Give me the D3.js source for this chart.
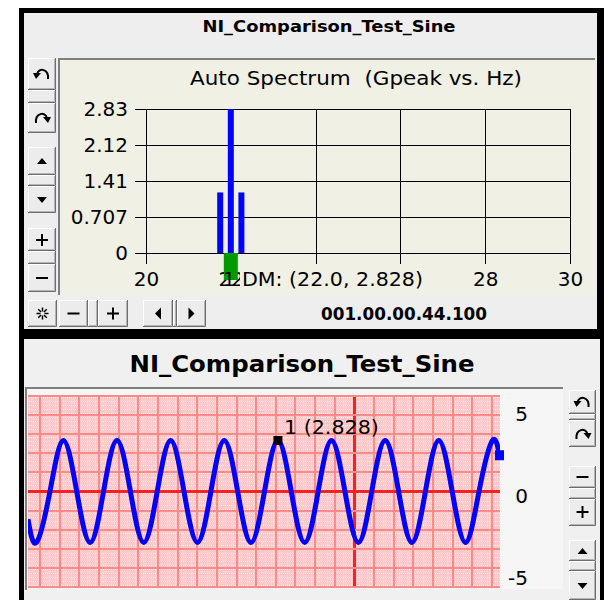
<!DOCTYPE html>
<html>
<head>
<meta charset="utf-8">
<script src="https://cdn.jsdelivr.net/npm/d3@7"></script>
<style>
body { margin: 0; background: #fff; }
text { font-family: "DejaVu Sans", sans-serif; fill: #000; }
</style>
</head>
<body>
<div id="chart"></div>
<script>
// ---- DATA ----
const panelTitle = "NI_Comparison_Test_Sine";
const specTitle = "Auto Spectrum  (Gpeak vs. Hz)";
const specFreq = [21.75, 22, 22.25];          // Hz
const specAmp = [1.19, 2.828, 1.19];          // Gpeak
const specYTicks = [0, 0.707, 1.41, 2.12, 2.83];
const specXTicks = [20, 22, 24, 26, 28, 30];
const specXHidden = [24, 26];                 // labels covered by the cursor readout
const cursorFreq = 22.0;
const cursorLabel = "DM: (22.0, 2.828)";
const timeStamp = "001.00.00.44.100";

// time signal (ms, value)
const sineT = [0, 7.2, 18.6, 29.9, 41.3, 52.7, 64.0, 75.4, 86.8, 98.1, 109.5, 120.9, 132.2,
  143.6, 155.0, 166.3, 177.7, 189.0, 200.4, 211.8, 223.1, 234.5, 245.9, 257.2, 268.6,
  280.0, 291.3, 302.7, 314.1, 325.4, 336.8, 348.1, 359.5, 370.9, 382.2, 393.6, 400];
const sineV = [-1.54, -2.828, 0, 2.828, 0, -2.828, 0, 2.828, 0, -2.828, 0, 2.828, 0,
  -2.828, 0, 2.828, 0, -2.828, 0, 2.828, 0, -2.828, 0, 2.828, 0,
  -2.828, 0, 2.828, 0, -2.828, 0, 2.828, 0, -2.828, 0, 2.828, 1.79];
const sineYTicks = [5, 0, -5];
const markerT = 211.8, markerV = 2.828;
const markerLabel = "1 (2.828)";

const sine = sineT.map((t, i) => ({t: t, v: sineV[i]}));

const svg = d3.select("#chart").append("svg")
  .attr("width", 604).attr("height", 600).style("display", "block");

// ---- panels ----
svg.append("rect").attr("x", 19).attr("y", 8).attr("width", 585).attr("height", 592).attr("fill", "#000");
svg.append("rect").attr("x", 24).attr("y", 13).attr("width", 573).attr("height", 316).attr("fill", "#eeeeee");
svg.append("rect").attr("x", 24).attr("y", 339).attr("width", 576).attr("height", 261).attr("fill", "#f0f0f0");

// windows style button
function btn(x, y, w, h) {
  const g = svg.append("g");
  g.append("rect").attr("x", x).attr("y", y).attr("width", w).attr("height", h).attr("fill", "#ececec");
  g.append("path").attr("d", `M${x + 0.5},${y + h} V${y + 0.5} H${x + w}`)
    .attr("stroke", "#fff").attr("fill", "none");
  g.append("path").attr("d", `M${x},${y + h - 0.5} H${x + w - 0.5} V${y}`)
    .attr("stroke", "#6e6e6e").attr("fill", "none");
  g.append("path").attr("d", `M${x + 1},${y + h - 1.5} H${x + w - 1.5} V${y + 1}`)
    .attr("stroke", "#b4b4b4").attr("fill", "none");
  return g;
}
function icon(kind, cx, cy) {
  const g = svg.append("g").attr("transform", `translate(${cx},${cy})`);
  if (kind === "undo" || kind === "redo") {
    const s = g.append("g").attr("transform", kind === "redo" ? "scale(-1,1)" : null);
    s.append("path").attr("d", "M6,5 C7,-5 -3,-7 -5,0").attr("fill", "none")
      .attr("stroke", "#000").attr("stroke-width", 2);
    s.append("path").attr("d", "M-9,-1 L-1,-1 L-6,5 Z").attr("fill", "#000");
  } else if (kind === "up") {
    g.append("path").attr("d", "M-5,3 L5,3 L0,-3 Z").attr("fill", "#000");
  } else if (kind === "down") {
    g.append("path").attr("d", "M-5,-3 L5,-3 L0,3 Z").attr("fill", "#000");
  } else if (kind === "left") {
    g.append("path").attr("d", "M3,-6 L3,6 L-3,0 Z").attr("fill", "#000");
  } else if (kind === "right") {
    g.append("path").attr("d", "M-3,-6 L-3,6 L3,0 Z").attr("fill", "#000");
  } else if (kind === "plus") {
    g.append("path").attr("d", "M-6,0 H6 M0,-6 V6").attr("stroke", "#000").attr("stroke-width", 2);
  } else if (kind === "minus") {
    g.append("path").attr("d", "M-6,0 H6").attr("stroke", "#000").attr("stroke-width", 2);
  } else if (kind === "star") {
    d3.range(8).forEach(i => {
      const a = i * Math.PI / 4;
      g.append("line").attr("x1", 2 * Math.cos(a)).attr("y1", 2 * Math.sin(a))
        .attr("x2", 6 * Math.cos(a)).attr("y2", 6 * Math.sin(a))
        .attr("stroke", "#000").attr("stroke-width", 1.5);
    });
  }
}

// ================= TOP PANEL : auto spectrum =================
svg.append("text").attr("x", 329).attr("y", 32).attr("text-anchor", "middle")
  .attr("font-size", 16).attr("font-weight", "bold").attr("textLength", 253)
  .attr("lengthAdjust", "spacingAndGlyphs").text(panelTitle);

// plot frame
svg.append("rect").attr("x", 60).attr("y", 60).attr("width", 535).attr("height", 235).attr("fill", "#f1f0e4");
svg.append("path").attr("d", "M59,295 V59 H595").attr("fill", "none").attr("stroke", "#7f7f7f").attr("stroke-width", 2);

svg.append("text").attr("x", 356).attr("y", 85).attr("text-anchor", "middle")
  .attr("font-size", 20).attr("textLength", 332).attr("lengthAdjust", "spacingAndGlyphs")
  .style("white-space", "pre").text(specTitle);

const sx = d3.scaleLinear().domain([20, 30]).range([146, 570]);
const sy = d3.scaleLinear().domain([0, 2.83]).range([253, 109]);

const yAx = svg.append("g").attr("transform", "translate(135,0)")
  .call(d3.axisLeft(sy).tickValues(specYTicks).tickSize(-(570 - 135)).tickPadding(7)
    .tickFormat(d => String(d)));
const xAx = svg.append("g").attr("transform", "translate(0,264)")
  .call(d3.axisBottom(sx).tickValues(specXTicks).tickSize(-(264 - 109)).tickPadding(8)
    .tickFormat(d => specXHidden.includes(d) ? "" : String(d)));
[yAx, xAx].forEach(a => {
  a.select(".domain").remove();
  a.selectAll("line").attr("stroke", "#000").attr("shape-rendering", "crispEdges");
  a.selectAll("text").attr("font-size", 20).attr("font-family", "DejaVu Sans");
});

// spectrum bars
svg.selectAll("rect.bar").data(specFreq).join("rect").attr("class", "bar")
  .attr("x", d => sx(d) - 3).attr("width", 6)
  .attr("y", (d, i) => sy(specAmp[i]))
  .attr("height", (d, i) => sy(0) - sy(specAmp[i]))
  .attr("fill", "#0000ff");

// cursor
svg.append("rect").attr("x", sx(cursorFreq) - 7).attr("y", sy(0)).attr("width", 14).attr("height", 27)
  .attr("fill", "#009a00");
svg.append("text").attr("x", sx(cursorFreq) - 8).attr("y", 286).attr("font-size", 20).text("1");
svg.append("rect").attr("x", 240).attr("y", 267).attr("width", 192).attr("height", 24).attr("fill", "#f1f0e4");
svg.append("text").attr("x", 242).attr("y", 286).attr("font-size", 20)
  .attr("textLength", 181).attr("lengthAdjust", "spacingAndGlyphs").text(cursorLabel);

// left button column
btn(28, 58, 28, 32); btn(28, 90, 28, 13); btn(28, 103, 28, 30);
icon("undo", 42, 74); icon("redo", 42, 118);
btn(28, 147, 28, 28); btn(28, 175, 28, 11); btn(28, 186, 28, 27);
icon("up", 42, 161); icon("down", 42, 200);
btn(28, 228, 28, 23); btn(28, 251, 28, 13); btn(28, 264, 28, 28);
icon("plus", 42, 240); icon("minus", 42, 278);

// bottom strip
btn(28, 300, 29, 27); icon("star", 42.5, 313.5);
btn(59, 300, 29, 27); btn(88, 300, 10, 27); btn(98, 300, 30, 27);
icon("minus", 73.5, 313.5); icon("plus", 113, 313.5);
btn(143, 300, 30, 27); btn(173, 300, 4, 27); btn(177, 300, 29, 27);
icon("left", 158, 313.5); icon("right", 191.5, 313.5);
svg.append("text").attr("x", 404).attr("y", 320).attr("text-anchor", "middle")
  .attr("font-size", 17).attr("font-weight", "bold").attr("fill", "#1a1a1a")
  .attr("textLength", 166).attr("lengthAdjust", "spacingAndGlyphs").text(timeStamp);

// ================= BOTTOM PANEL : time signal =================
svg.append("text").attr("x", 302).attr("y", 372).attr("text-anchor", "middle")
  .attr("font-size", 23).attr("font-weight", "bold").attr("textLength", 345)
  .attr("lengthAdjust", "spacingAndGlyphs").text(panelTitle);

svg.append("rect").attr("x", 27).attr("y", 389).attr("width", 536).attr("height", 200).attr("fill", "#f6f6f6");
svg.append("path").attr("d", "M26,590 V388 H563").attr("fill", "none").attr("stroke", "#7f7f7f").attr("stroke-width", 2);

const defs = svg.append("defs");
const pat = defs.append("pattern").attr("id", "paper").attr("patternUnits", "userSpaceOnUse")
  .attr("x", 28).attr("y", 396).attr("width", 4).attr("height", 4);
pat.append("rect").attr("width", 4).attr("height", 4).attr("fill", "#ffcaca");
pat.append("rect").attr("x", 1).attr("y", 1).attr("width", 1).attr("height", 1).attr("fill", "#fff2f2");
pat.append("rect").attr("x", 3).attr("y", 1).attr("width", 1).attr("height", 1).attr("fill", "#fff2f2");
defs.append("clipPath").attr("id", "plotclip").append("rect")
  .attr("x", 28).attr("y", 396).attr("width", 472).attr("height", 191);

const tx = d3.scaleLinear().domain([0, 400]).range([28, 500]);
const vy = d3.scaleLinear().domain([-5.3, 5.3]).range([587, 396]);
// chart paper grid (fixed divisions)
const gx = d3.scaleLinear().domain([0, 23]).range([40, 492]);
const gy = d3.scaleLinear().domain([0, 10]).range([396, 587]);

svg.append("rect").attr("x", 28).attr("y", 396).attr("width", 472).attr("height", 191).attr("fill", "url(#paper)");
const grid = svg.append("g").attr("shape-rendering", "crispEdges");
grid.selectAll("line.v").data(d3.range(24)).join("line").attr("class", "v")
  .attr("x1", d => gx(d)).attr("x2", d => gx(d)).attr("y1", 396).attr("y2", 587)
  .attr("stroke", d => d === 16 ? "#ff2020" : "#ff8a8a").attr("stroke-width", d => d === 16 ? 3 : 2);
grid.selectAll("line.h").data(d3.range(11)).join("line").attr("class", "h")
  .attr("y1", d => gy(d)).attr("y2", d => gy(d)).attr("x1", 28).attr("x2", 500)
  .attr("stroke", d => d === 5 ? "#ff2020" : "#ff8a8a").attr("stroke-width", d => d === 5 ? 3 : 2);

const line = d3.line().x(d => tx(d.t)).y(d => vy(d.v)).curve(d3.curveNatural);
svg.append("path").datum(sine).attr("d", line).attr("clip-path", "url(#plotclip)")
  .attr("fill", "none").attr("stroke", "#0000ff").attr("stroke-width", 5);

const last = sine[sine.length - 1];
svg.append("rect").attr("x", tx(last.t) - 5).attr("y", vy(last.v) - 9).attr("width", 9).attr("height", 10)
  .attr("fill", "#0000ff");

svg.append("rect").attr("x", tx(markerT) - 4.5).attr("y", vy(markerV) - 4.5).attr("width", 9).attr("height", 9)
  .attr("fill", "#000");
svg.append("text").attr("x", tx(markerT) + 6).attr("y", vy(markerV) - 7).attr("font-size", 20)
  .attr("textLength", 95).attr("lengthAdjust", "spacingAndGlyphs").text(markerLabel);

// right value axis
const vAx = svg.append("g").attr("transform", "translate(528,0)")
  .call(d3.axisLeft(vy).tickValues(sineYTicks).tickSize(0).tickPadding(0).tickFormat(d => String(d)));
vAx.select(".domain").remove();
vAx.selectAll("text").attr("font-size", 20).attr("font-family", "DejaVu Sans")
  .attr("dy", d => d === 5 ? "0.95em" : d === 0 ? "0.55em" : "0.15em");

// right button column
btn(569, 390, 27, 24); btn(569, 414, 27, 6); btn(569, 420, 27, 27);
icon("undo", 582.5, 402); icon("redo", 582.5, 434);
btn(569, 466, 27, 22); btn(569, 488, 27, 11); btn(569, 499, 27, 27);
icon("minus", 582.5, 477); icon("plus", 582.5, 512);
btn(569, 540, 27, 21); btn(569, 561, 27, 10); btn(569, 571, 27, 29);
icon("up", 582.5, 551); icon("down", 582.5, 586);
</script>
</body>
</html>
